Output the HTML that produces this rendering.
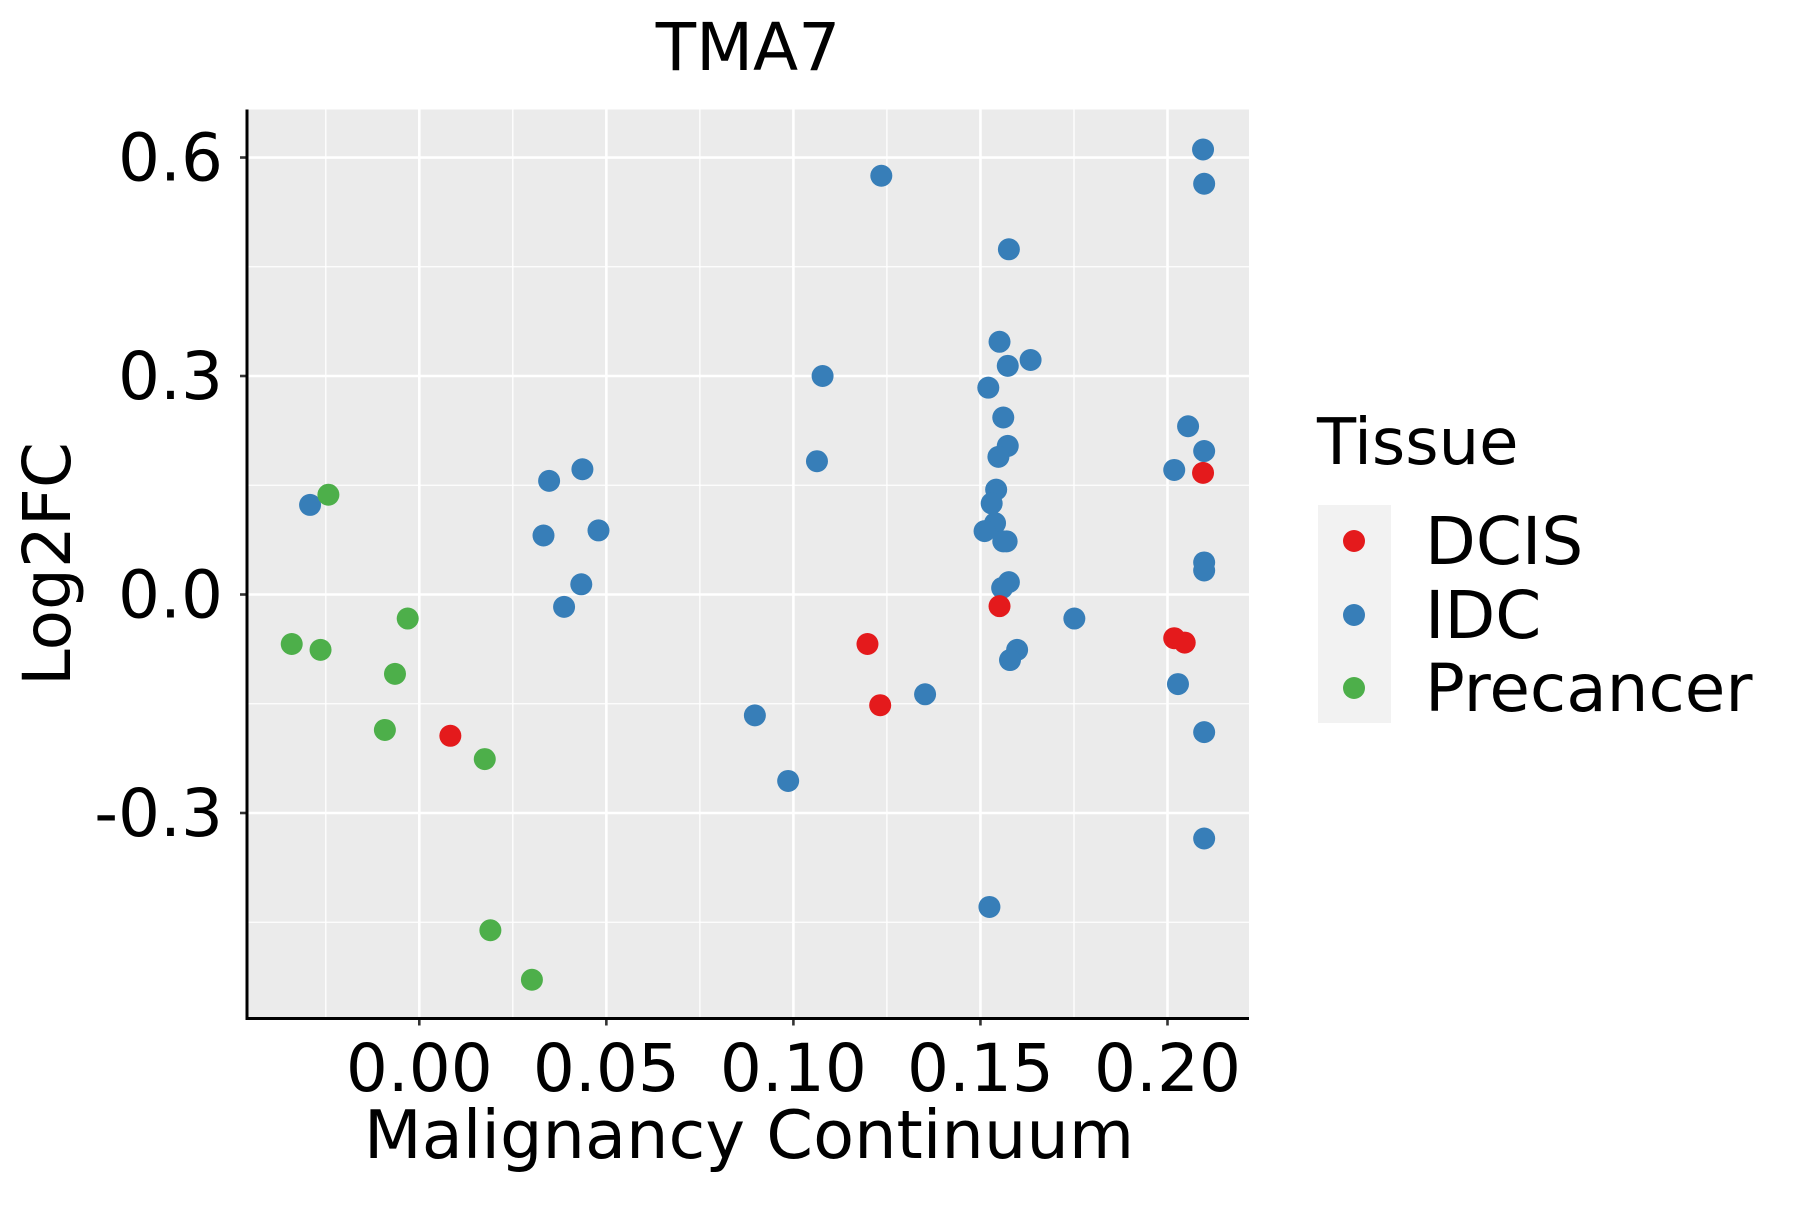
<!DOCTYPE html>
<html><head><meta charset="utf-8"><style>
body{margin:0;background:#fff}
svg text{font-family:"DejaVu Sans","Liberation Sans",sans-serif;fill:#000}
</style></head><body>
<svg id="chart" width="1800" height="1200" viewBox="0 0 1800 1200">
<rect x="247" y="109.5" width="1002" height="909" fill="#ebebeb"/>
<g id="grid"></g>
<g id="points"></g>
<g id="axes"></g>
<text x="748" y="70" font-size="66" text-anchor="middle">TMA7</text>
<text x="749" y="1158" font-size="67" text-anchor="middle">Malignancy Continuum</text>
<text transform="translate(70,564) rotate(-90)" font-size="66" text-anchor="middle">Log2FC</text>
<g>
<text x="1317" y="464" font-size="64">Tissue</text>
<rect x="1318" y="505" width="73" height="218" fill="#f2f2f2"/>
<circle cx="1354" cy="541" r="11" fill="#e41a1c"/>
<circle cx="1354" cy="615" r="11" fill="#377eb8"/>
<circle cx="1354" cy="688" r="11" fill="#4daf4a"/>
<text x="1425" y="564" font-size="66">DCIS</text>
<text x="1425" y="638" font-size="66">IDC</text>
<text x="1425" y="711" font-size="66">Precancer</text>
</g>
</svg>
<script>
const xTicks=[0,0.05,0.10,0.15,0.20];
const xTickLabels=["0.00","0.05","0.10","0.15","0.20"];
const yTicks=[-0.3,0,0.3,0.6];
const yTickLabels=["-0.3","0.0","0.3","0.6"];
const idcX=[0.2095,0.2098,0.1235,0.1576,0.1551,0.1573,0.1634,0.1521,0.1078,0.1561,0.2055,0.1573,0.1548,0.2098,0.2018,0.1063,0.1542,0.153,0.1539,0.1511,0.1561,0.157,0.1576,0.1558,0.2098,0.2098,0.1751,0.1598,0.1579,0.2028,0.2098,0.2098,0.1524,0.1352,0.0897,0.0986,-0.0292,0.0347,0.0436,0.0332,0.0479,0.0433,0.0387];
const idcY=[0.611,0.564,0.575,0.474,0.347,0.314,0.322,0.284,0.300,0.243,0.231,0.204,0.189,0.197,0.171,0.183,0.144,0.125,0.098,0.087,0.073,0.073,0.017,0.009,0.044,0.033,-0.033,-0.076,-0.090,-0.123,-0.189,-0.335,-0.429,-0.137,-0.166,-0.256,0.123,0.156,0.172,0.081,0.088,0.014,-0.017];
const dcisX=[0.2095,0.1551,0.1198,0.2018,0.2046,0.1232,0.0083];
const dcisY=[0.167,-0.016,-0.068,-0.060,-0.066,-0.152,-0.194];
const preX=[-0.0243,-0.0031,-0.0341,-0.0264,-0.0065,-0.0092,0.0175,0.0190,0.0301];
const preY=[0.137,-0.033,-0.068,-0.076,-0.109,-0.186,-0.226,-0.461,-0.529];

const NS="http://www.w3.org/2000/svg";
const L=247,R=1249,T=109.5,B=1018.5;
function sx(v){return 419.3+v*3741;}
function sy(v){return 594.5-v*728.3;}
function mk(tag,attrs,parent){const e=document.createElementNS(NS,tag);for(const k in attrs)e.setAttribute(k,attrs[k]);parent.appendChild(e);return e;}
const grid=document.getElementById('grid'),axes=document.getElementById('axes'),pts=document.getElementById('points');
for(let i=0;i<xTicks.length;i++){
  const v=xTicks[i]-0.025;
  const g=mk('line',{x1:sx(v),x2:sx(v),y1:T,y2:B,stroke:'#fff','stroke-width':1.3},grid);
  
  
}
for(let i=0;i<yTicks.length;i++){
  const v=yTicks[i]-0.15;
  const g=mk('line',{x1:L,x2:R,y1:sy(v),y2:sy(v),stroke:'#fff','stroke-width':1.3},grid);
  
  
}
for(let i=0;i<xTicks.length;i++){
  const x=sx(xTicks[i]);
  const g=mk('line',{x1:x,x2:x,y1:T,y2:B,stroke:'#fff','stroke-width':2.6},grid);
  
  
  const t=mk('line',{x1:x,x2:x,y1:B,y2:B+7,stroke:'#333','stroke-width':2.6},axes);
  
  
  const lb=mk('text',{x:x,y:1091,'font-size':66,'text-anchor':'middle'},axes);
  lb.textContent=xTickLabels[i];
  
  
}
for(let i=0;i<yTicks.length;i++){
  const y=sy(yTicks[i]);
  const g=mk('line',{x1:L,x2:R,y1:y,y2:y,stroke:'#fff','stroke-width':2.6},grid);
  
  
  const t=mk('line',{x1:L-7,x2:L,y1:y,y2:y,stroke:'#333','stroke-width':2.6},axes);
  
  
  const lb=mk('text',{x:223,y:y+23,'font-size':66,'text-anchor':'end'},axes);
  lb.textContent=yTickLabels[i];
  
  
}
const ax1=mk('line',{x1:L,x2:L,y1:T,y2:B+1.5,stroke:'#000','stroke-width':3},axes);


const ax2=mk('line',{x1:L-1.5,x2:R,y1:B,y2:B,stroke:'#000','stroke-width':3},axes);


function series(xs,ys,color,name){
  for(let i=0;i<xs.length;i++){
    const c=mk('circle',{cx:sx(xs[i]),cy:sy(ys[i]),r:11,fill:color},pts);
    
    
  }
}
series(idcX,idcY,'#377eb8','idc-point');
series(dcisX,dcisY,'#e41a1c','dcis-point');
series(preX,preY,'#4daf4a','precancer-point');
</script>
</body></html>
